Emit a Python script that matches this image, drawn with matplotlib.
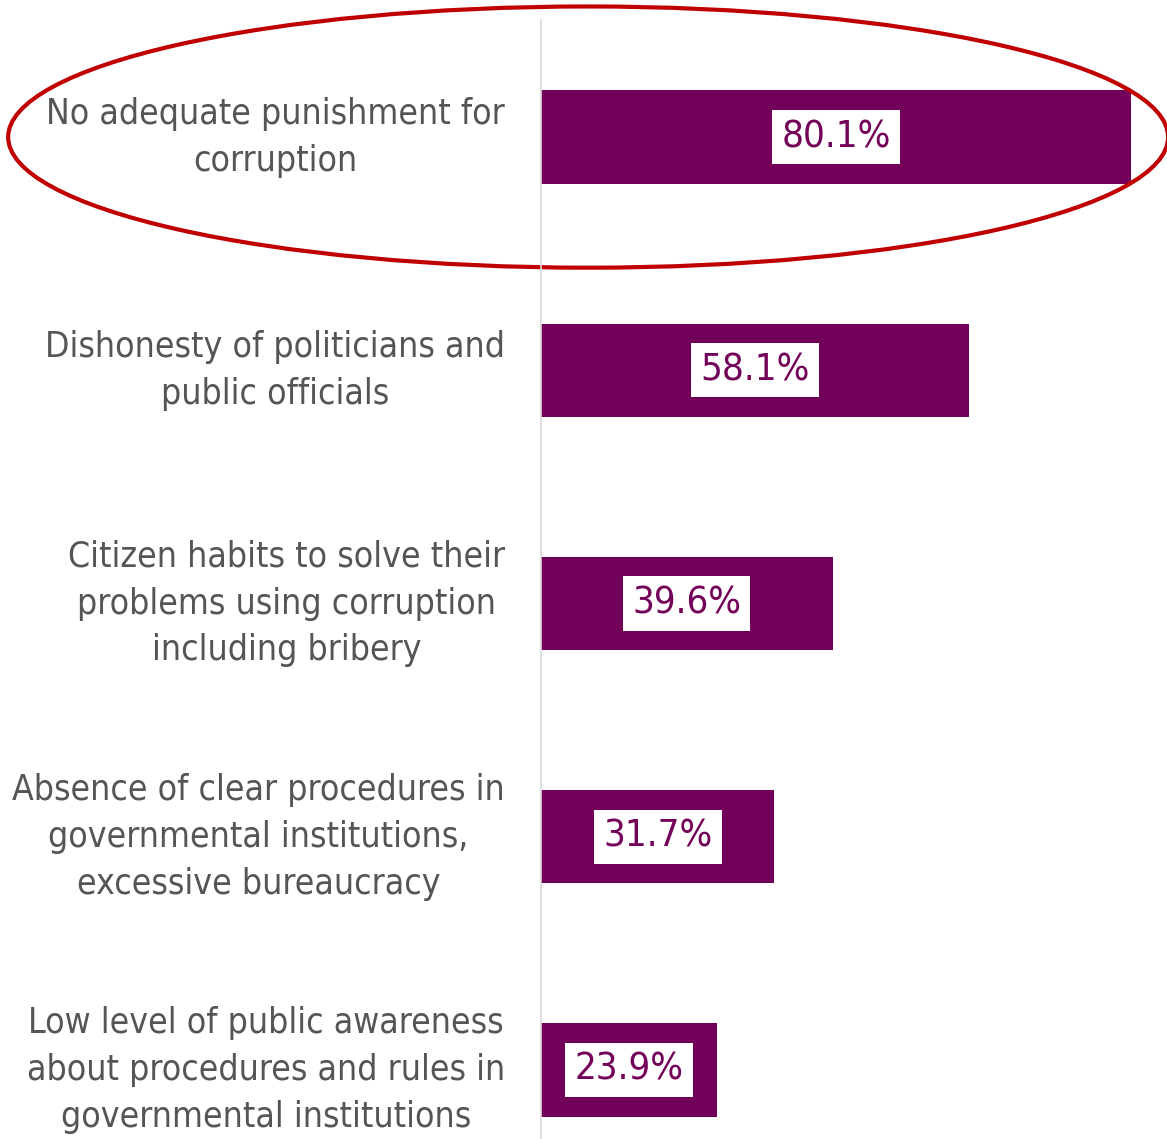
import matplotlib.pyplot as plt
from matplotlib.patches import Ellipse

plt.rcParams['font.family'] = ['DejaVu Sans']

labels = [
    'No adequate punishment for\ncorruption',
    'Dishonesty of politicians and\npublic officials',
    'Citizen habits to solve their\nproblems using corruption\nincluding bribery',
    'Absence of clear procedures in\ngovernmental institutions,\nexcessive bureaucracy',
    'Low level of public awareness\nabout procedures and rules in\ngovernmental institutions',
]
values = [80.1, 58.1, 39.6, 31.7, 23.9]

purple = '#730059'
gray_text = '#555555'

fig = plt.figure(figsize=(11.67, 11.39), dpi=100)
ax = fig.add_axes([541 / 1167, 0, 1 - 541 / 1167, 1 - 20 / 1139])

pos = list(range(len(values)))
ax.barh(pos, values, height=0.4, color=purple)
ax.set_xlim(0, 85)
ax.set_ylim(4.296, -0.502)

for i, (lab, v) in enumerate(zip(labels, values)):
    ax.text(v / 2, i, f'{v}%', ha='center', va='center', fontsize=27.5,
            color=purple, fontstretch='condensed',
            bbox=dict(boxstyle='square,pad=0.24', fc='white', ec='none'))
    ax.text(-4.9, i, lab, ha='right', va='center', multialignment='center',
            fontsize=25.5, color=gray_text, linespacing=1.48,
            fontstretch='condensed')

# highlight ring round the top item
ell = Ellipse((6.4, 0.0), 157.5, 1.12, fill=False, ec='#C00000', lw=3,
              clip_on=False)
ax.add_patch(ell)

for s in ['top', 'right', 'bottom']:
    ax.spines[s].set_visible(False)
ax.spines['left'].set_color('#D9D9D9')
ax.spines['left'].set_linewidth(1.2)
ax.set_xticks([])
ax.set_yticks([])

fig.savefig('out.png', dpi=100)
